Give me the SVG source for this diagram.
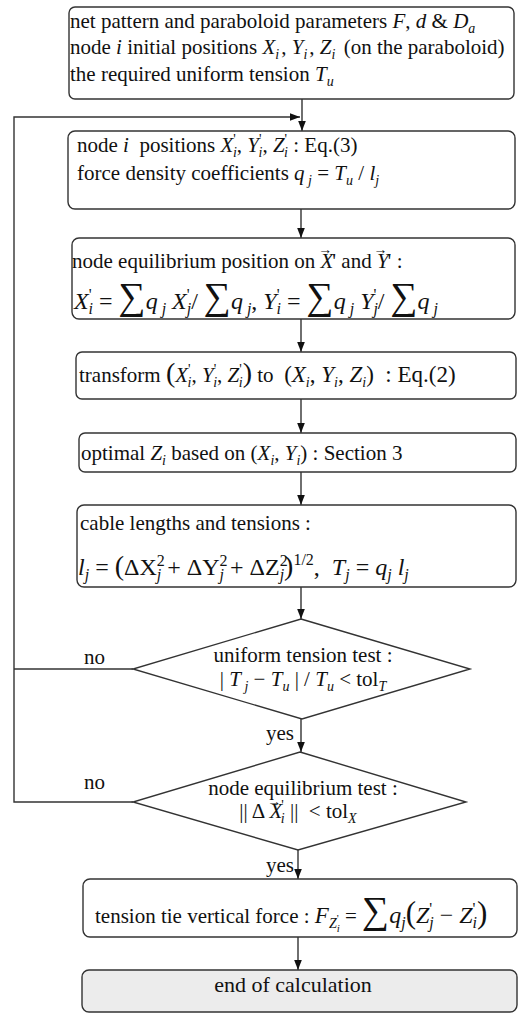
<svg xmlns="http://www.w3.org/2000/svg" width="520" height="1014" viewBox="0 0 520 1014">
<style>
.bx{fill:#fff;stroke:#333;stroke-width:1.4}
.end{fill:#ececec;stroke:#333;stroke-width:1.4}
.cn{fill:none;stroke:#333;stroke-width:1.4}
text{font-family:"Liberation Serif","Times New Roman",serif;font-size:21px;fill:#111;white-space:pre}
tspan{fill:#111}
.i{font-style:italic}
.sb{font-size:14px}
.ss{font-size:11px}
.big{font-size:36px}
.par{font-size:28px}
.c{text-anchor:middle}
.f{font-size:24px}
.f .sb{font-size:16px}
.g{font-size:24px}
.g .sb{font-size:16px}
.g .big{font-size:38px}
.g .par{font-size:31px}
</style>
<defs>
<marker id="ah" viewBox="0 0 10 10" refX="10" refY="5" markerWidth="10" markerHeight="10" markerUnits="userSpaceOnUse" orient="auto">
<path d="M0,1.2 L10,5 L0,8.8 Z" fill="#111"/>
</marker>
</defs>
<rect width="520" height="1014" fill="#fff"/>
<g id="connectors">
<line class="cn" x1="302" y1="99" x2="302" y2="131" marker-end="url(#ah)"/>
<polyline class="cn" points="133,669 14,669"/>
<polyline class="cn" points="133,802 14,802 14,117 300,117" marker-end="url(#ah)"/>
<line class="cn" x1="301" y1="209" x2="301" y2="238" marker-end="url(#ah)"/>
<line class="cn" x1="301" y1="319" x2="301" y2="352" marker-end="url(#ah)"/>
<line class="cn" x1="301" y1="399" x2="301" y2="433" marker-end="url(#ah)"/>
<line class="cn" x1="301" y1="472" x2="301" y2="505" marker-end="url(#ah)"/>
<line class="cn" x1="301" y1="587" x2="301" y2="619" marker-end="url(#ah)"/>
<line class="cn" x1="301" y1="719" x2="301" y2="752" marker-end="url(#ah)"/>
<line class="cn" x1="298" y1="850" x2="298" y2="879" marker-end="url(#ah)"/>
<line class="cn" x1="298" y1="937" x2="298" y2="970" marker-end="url(#ah)"/>
<text x="84" y="664">no</text>
<text x="84" y="789">no</text>
<text x="266" y="740">yes</text>
<text x="266" y="872">yes</text>
</g>
<g id="n1">
<rect class="bx" x="69" y="7" width="445" height="92" rx="6"/>
<text x="70" y="28">net pattern and paraboloid parameters <tspan class="i">F</tspan>, <tspan class="i">d</tspan> &amp; <tspan class="i">D</tspan><tspan class="sb i" dy="5">a</tspan></text>
<text x="70" y="54">node <tspan class="i">i</tspan> initial positions <tspan class="i">X</tspan><tspan class="sb i" dy="5">i</tspan><tspan dx="2" dy="-5">, </tspan><tspan class="i">Y</tspan><tspan class="sb i" dy="5">i</tspan><tspan dx="2" dy="-5">, </tspan><tspan class="i">Z</tspan><tspan class="sb i" dy="5">i</tspan><tspan dx="3" dy="-5"> (on the paraboloid)</tspan></text>
<text x="70" y="81">the required uniform tension <tspan class="i">T</tspan><tspan class="sb i" dy="5">u</tspan></text>
</g>
<g id="n2">
<rect class="bx" x="68" y="131" width="447" height="78" rx="7"/>
<text x="77" y="152">node <tspan class="i">i</tspan>  positions <tspan class="i">X</tspan><tspan class="sb" dy="-8">'</tspan><tspan class="sb i" dx="-3" dy="13">i</tspan><tspan dy="-5">, </tspan><tspan class="i">Y</tspan><tspan class="sb" dy="-8">'</tspan><tspan class="sb i" dx="-3" dy="13">i</tspan><tspan dy="-5">, </tspan><tspan class="i">Z</tspan><tspan class="sb" dy="-8">'</tspan><tspan class="sb i" dx="-3" dy="13">i</tspan><tspan dy="-5"> : Eq.(3)</tspan></text>
<text x="77" y="180">force density coefficients <tspan class="i">q</tspan><tspan class="sb i" dy="5"> j</tspan><tspan dy="-5"> = </tspan><tspan class="i">T</tspan><tspan class="sb i" dy="5">u</tspan><tspan dy="-5"> / </tspan><tspan class="i">l</tspan><tspan class="sb i" dy="5">j</tspan></text>
</g>
<g id="n3">
<rect class="bx" x="72" y="238" width="443" height="81" rx="7"/>
<text x="72" y="268">node equilibrium position on <tspan class="i">X</tspan><tspan class="sb" dx="-15" dy="-14">→</tspan><tspan dy="14">' and </tspan><tspan class="i">Y</tspan><tspan class="sb" dx="-15" dy="-14">→</tspan><tspan dy="14">' :</tspan></text>
<text class="g" x="74" y="309"><tspan class="i">X</tspan><tspan class="sb" dy="-9">'</tspan><tspan class="sb i" dx="-3" dy="14">i</tspan><tspan dy="-5"> = </tspan><tspan class="big">∑</tspan><tspan class="i">q</tspan><tspan class="sb i" dy="5"> j</tspan><tspan class="i" dy="-5"> X</tspan><tspan class="sb" dy="-9">'</tspan><tspan class="sb i" dx="-3" dy="14">j</tspan><tspan dy="-5">/ </tspan><tspan class="big">∑</tspan><tspan class="i">q</tspan><tspan class="sb i" dy="5"> j</tspan><tspan dy="-5">, </tspan><tspan class="i">Y</tspan><tspan class="sb" dy="-9">'</tspan><tspan class="sb i" dx="-3" dy="14">i</tspan><tspan dy="-5"> = </tspan><tspan class="big">∑</tspan><tspan class="i">q</tspan><tspan class="sb i" dy="5"> j</tspan><tspan class="i" dy="-5"> Y</tspan><tspan class="sb" dy="-9">'</tspan><tspan class="sb i" dx="-3" dy="14">j</tspan><tspan dy="-5">/ </tspan><tspan class="big">∑</tspan><tspan class="i">q</tspan><tspan class="sb i" dy="5"> j</tspan></text>
</g>
<g id="n4">
<rect class="bx" x="76" y="352" width="440" height="47" rx="6"/>
<text x="79" y="382">transform <tspan class="par">(</tspan><tspan class="i">X</tspan><tspan class="sb" dy="-8">'</tspan><tspan class="sb i" dx="-3" dy="13">i</tspan><tspan dy="-5">, </tspan><tspan class="i">Y</tspan><tspan class="sb" dy="-8">'</tspan><tspan class="sb i" dx="-3" dy="13">i</tspan><tspan dy="-5">, </tspan><tspan class="i">Z</tspan><tspan class="sb" dy="-8">'</tspan><tspan class="sb i" dx="-3" dy="13">i</tspan><tspan class="par" dy="-5">)</tspan> to  <tspan style="font-size:23px">(<tspan class="i">X</tspan><tspan class="sb i" dy="5">i</tspan><tspan dy="-5">, </tspan><tspan class="i">Y</tspan><tspan class="sb i" dy="5">i</tspan><tspan dy="-5">, </tspan><tspan class="i">Z</tspan><tspan class="sb i" dy="5">i</tspan><tspan dy="-5">)  : Eq.(2)</tspan></tspan></text>
</g>
<g id="n5">
<rect class="bx" x="79" y="433" width="437" height="39" rx="6"/>
<text x="81" y="460">optimal <tspan class="i">Z</tspan><tspan class="sb i" dy="5">i</tspan><tspan dy="-5"> based on (</tspan><tspan class="i">X</tspan><tspan class="sb i" dy="5">i</tspan><tspan dy="-5">, </tspan><tspan class="i">Y</tspan><tspan class="sb i" dy="5">i</tspan><tspan dy="-5">) : Section 3</tspan></text>
</g>
<g id="n6">
<rect class="bx" x="77" y="505" width="439" height="82" rx="7"/>
<text x="80" y="530">cable lengths and tensions :</text>
<text class="f" x="78" y="575"><tspan class="i">l</tspan><tspan class="sb i" dy="5">j</tspan><tspan dy="-5"> = </tspan><tspan class="par">(</tspan>ΔX<tspan class="sb" dy="-9">2</tspan><tspan class="sb i" dx="-8" dy="14">j</tspan><tspan dy="-5"> + ΔY</tspan><tspan class="sb" dy="-9">2</tspan><tspan class="sb i" dx="-8" dy="14">j</tspan><tspan dy="-5"> + ΔZ</tspan><tspan class="sb" dy="-9">2</tspan><tspan class="sb i" dx="-8" dy="14">j</tspan><tspan class="par" dy="-5">)</tspan><tspan class="sb" dy="-10">1/2</tspan><tspan dy="10">,  </tspan><tspan class="i">T</tspan><tspan class="sb i" dy="5">j</tspan><tspan dy="-5"> = </tspan><tspan class="i">q</tspan><tspan class="sb i" dy="5">j</tspan><tspan class="i" dy="-5"> l</tspan><tspan class="sb i" dy="5">j</tspan></text>
</g>
<g id="d1">
<polygon class="bx" points="301,619 470,669 302,719 133,669"/>
<text class="c" x="303" y="662">uniform tension test :</text>
<text class="c" x="303" y="686"><tspan>| </tspan><tspan class="i">T</tspan><tspan class="sb i" dy="5"> j</tspan><tspan dy="-5"> − </tspan><tspan class="i">T</tspan><tspan class="sb i" dy="5">u</tspan><tspan dy="-5"> | / </tspan><tspan class="i">T</tspan><tspan class="sb i" dy="5">u</tspan><tspan dy="-5"> &lt; tol</tspan><tspan class="sb i" dy="5">T</tspan></text>
</g>
<g id="d2">
<polygon class="bx" points="300,752 466,802 298,850 133,802"/>
<text class="c" x="303" y="795">node equilibrium test :</text>
<text class="c" x="298" y="818"><tspan>|| Δ </tspan><tspan class="i">X</tspan><tspan class="sb" dx="-15" dy="-12">→</tspan><tspan class="sb" dy="4">'</tspan><tspan class="sb i" dx="-3" dy="13">i</tspan><tspan dy="-5"> ||  &lt; tol</tspan><tspan class="sb i" dy="5">X</tspan></text>
</g>
<g id="n7">
<rect class="bx" x="83" y="879" width="434" height="58" rx="7"/>
<text x="95" y="923">tension tie vertical force : <tspan class="i" style="font-size:23px">F</tspan><tspan class="sb i" dy="5">Z</tspan><tspan class="ss" dy="-6">'</tspan><tspan class="ss i" dx="-2" dy="10">i</tspan><tspan dy="-9"> = </tspan><tspan class="g"><tspan class="big">∑</tspan><tspan class="i">q</tspan><tspan class="sb i" dy="5">j</tspan><tspan class="par" dy="-5">(</tspan><tspan class="i">Z</tspan><tspan class="sb" dy="-9">'</tspan><tspan class="sb i" dx="-3" dy="14">j</tspan><tspan dy="-5"> − </tspan><tspan class="i">Z</tspan><tspan class="sb" dy="-9">'</tspan><tspan class="sb i" dx="-3" dy="14">i</tspan><tspan class="par" dy="-5">)</tspan></tspan></text>
</g>
<g id="n8">
<rect class="end" x="82" y="970" width="435" height="42" rx="7"/>
<text class="c" x="293" y="992" style="font-size:22px">end of calculation</text>
</g>
</svg>
